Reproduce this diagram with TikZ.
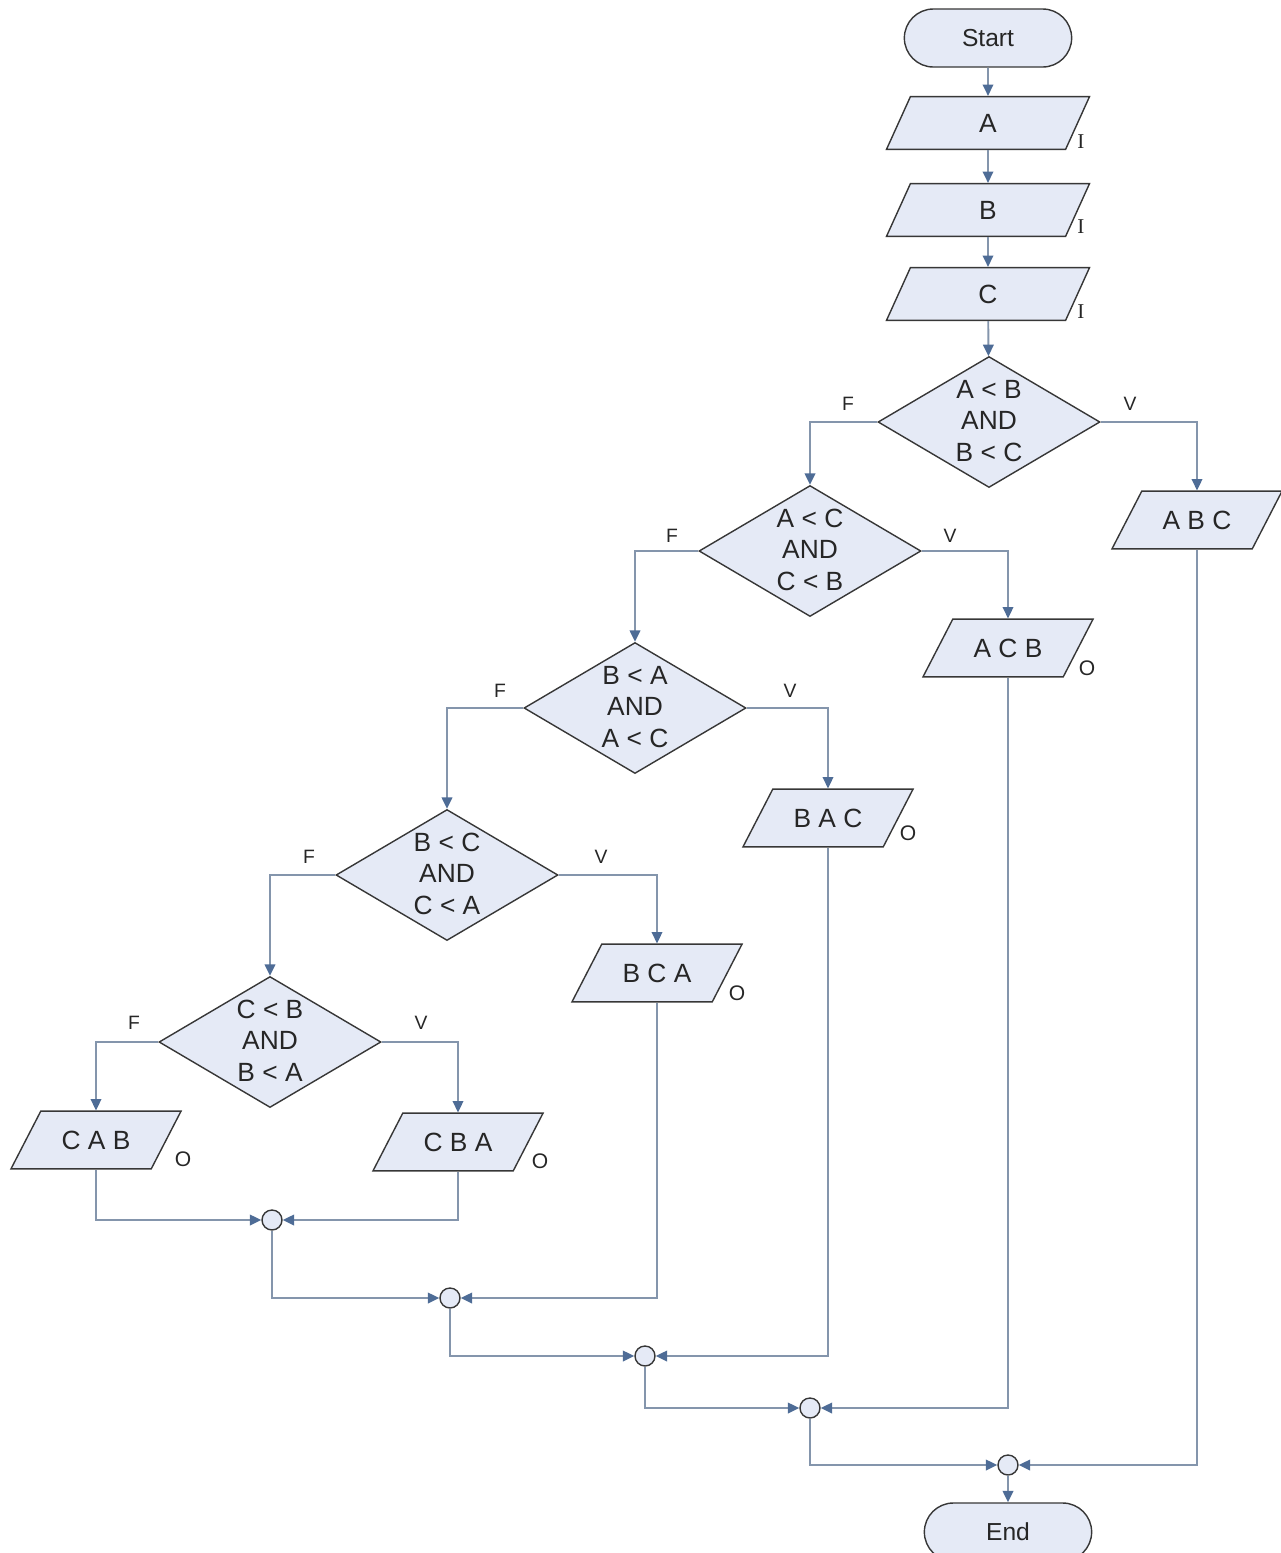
\documentclass[tikz,border=0pt]{standalone}
\usepackage{fontspec}
\setmainfont{Liberation Sans}
\newfontfamily\serifletter{Liberation Serif}
\usetikzlibrary{shapes.geometric,shapes.misc,arrows.meta}

\definecolor{boxfill}{RGB}{229,234,246}
\definecolor{boxline}{RGB}{55,55,55}
\definecolor{flowline}{RGB}{132,149,172}
\definecolor{tipfill}{RGB}{78,108,150}

\tikzset{
  terminal/.style={rounded rectangle, draw=boxline, fill=boxfill, line width=0.8pt,
    minimum width=35.8mm, minimum height=11.6mm, font=\fontsize{14}{17}\selectfont, text=black!85},
  inbox/.style={trapezium, trapezium left angle=65.6, trapezium right angle=114.4,
    trapezium stretches body, draw=boxline, fill=boxfill, line width=0.8pt,
    inner xsep=1pt, inner ysep=9.5pt, text height=11pt, text depth=0pt,
    minimum width=40.6mm, font=\fontsize{15}{18}\selectfont, text=black!85},
  outbox/.style={inbox, trapezium left angle=62.7, trapezium right angle=117.3,
    inner ysep=10.9pt, minimum width=34mm},
  decision/.style={diamond, draw=boxline, fill=boxfill, line width=0.8pt, inner sep=0pt,
    minimum width=44.4mm, minimum height=26.2mm, font=\fontsize{15}{18}\selectfont, text=black!85},
  merge/.style={circle, draw=boxline, fill=boxfill, line width=0.8pt, minimum size=4mm, inner sep=0pt},
  flow/.style={draw=flowline, line width=1.1pt, -{Triangle[length=6.5pt,width=6pt,color=tipfill]}},
  brlabel/.style={font=\fontsize{11}{13}\selectfont, text=black!85},
  iotag/.style={font=\fontsize{12}{14}\selectfont, text=black!85},
}

\newcommand{\testtext}[3]{\smash{\raisebox{-4.5pt}{\begin{tabular}{@{}c@{}}#1\\#2\\#3\end{tabular}}}}

\begin{document}
\begin{tikzpicture}[x=0.2mm, y=-0.2mm]
  \useasboundingbox (0,0) rectangle (1281,1553);

  % Draw the start and the three inputs
  \node[terminal] (start) at (988,38) {Start};
  \node[inbox] (a) at (988,123) {A};
  \node[inbox] (b) at (988,210) {B};
  \node[inbox] (c) at (988,294) {C};

  \node[iotag] (ta) at (1081,142) {\serifletter I};
  \node[iotag] (tb) at (1081,227) {\serifletter I};
  \node[iotag] (tc) at (1081,312) {\serifletter I};

  \draw[flow] (start) -- (a);
  \draw[flow] (a) -- (b);
  \draw[flow] (b) -- (c);

  % Draw the chain of tests
  \node[decision] (d1) at (989,422) {\testtext{A < B}{AND}{B < C}};
  \node[decision] (d2) at (810,551) {\testtext{A < C}{AND}{C < B}};
  \node[decision] (d3) at (635,708) {\testtext{B < A}{AND}{A < C}};
  \node[decision] (d4) at (447,875) {\testtext{B < C}{AND}{C < A}};
  \node[decision] (d5) at (270,1042) {\testtext{C < B}{AND}{B < A}};

  \draw[flow] (c) -- (d1);

  % Draw the outputs
  \node[outbox] (abc) at (1197,520) {A B C};
  \node[outbox] (acb) at (1008,648) {A C B};
  \node[outbox] (bac) at (828,818) {B A C};
  \node[outbox] (bca) at (657,973) {B C A};
  \node[outbox] (cab) at (96,1140) {C A B};
  \node[outbox] (cba) at (458,1142) {C B A};

  \node[iotag] (tacb) at (1087,668) {O};
  \node[iotag] (tbac) at (908,833) {O};
  \node[iotag] (tbca) at (737,993) {O};
  \node[iotag] (tcab) at (183,1159) {O};
  \node[iotag] (tcba) at (540,1161) {O};

  % F and V branches
  \draw[flow] (d1.west) -| (d2.north);
  \draw[flow] (d1.east) -| (abc.north);
  \draw[flow] (d2.west) -| (d3.north);
  \draw[flow] (d2.east) -| (acb.north);
  \draw[flow] (d3.west) -| (d4.north);
  \draw[flow] (d3.east) -| (bac.north);
  \draw[flow] (d4.west) -| (d5.north);
  \draw[flow] (d4.east) -| (bca.north);
  \draw[flow] (d5.west) -| (cab.north);
  \draw[flow] (d5.east) -| (cba.north);

  \node[brlabel] (f1) at (848,404) {F};
  \node[brlabel] (v1) at (1130,404) {V};
  \node[brlabel] (f2) at (672,536) {F};
  \node[brlabel] (v2) at (950,536) {V};
  \node[brlabel] (f3) at (500,691) {F};
  \node[brlabel] (v3) at (790,691) {V};
  \node[brlabel] (f4) at (309,857) {F};
  \node[brlabel] (v4) at (601,857) {V};
  \node[brlabel] (f5) at (134,1023) {F};
  \node[brlabel] (v5) at (421,1023) {V};

  % Draw the joins down to the end
  \node[merge] (m1) at (272,1220) {};
  \node[merge] (m2) at (450,1298) {};
  \node[merge] (m3) at (645,1356) {};
  \node[merge] (m4) at (810,1408) {};
  \node[merge] (m5) at (1008,1465) {};
  \node[terminal] (end) at (1008,1532) {End};

  \draw[flow] (cab.south) |- (m1.west);
  \draw[flow] (cba.south) |- (m1.east);
  \draw[flow] (m1.south) |- (m2.west);
  \draw[flow] (bca.south) |- (m2.east);
  \draw[flow] (m2.south) |- (m3.west);
  \draw[flow] (bac.south) |- (m3.east);
  \draw[flow] (m3.south) |- (m4.west);
  \draw[flow] (acb.south) |- (m4.east);
  \draw[flow] (m4.south) |- (m5.west);
  \draw[flow] (abc.south) |- (m5.east);
  \draw[flow] (m5) -- (end);

\end{tikzpicture}
\end{document}
